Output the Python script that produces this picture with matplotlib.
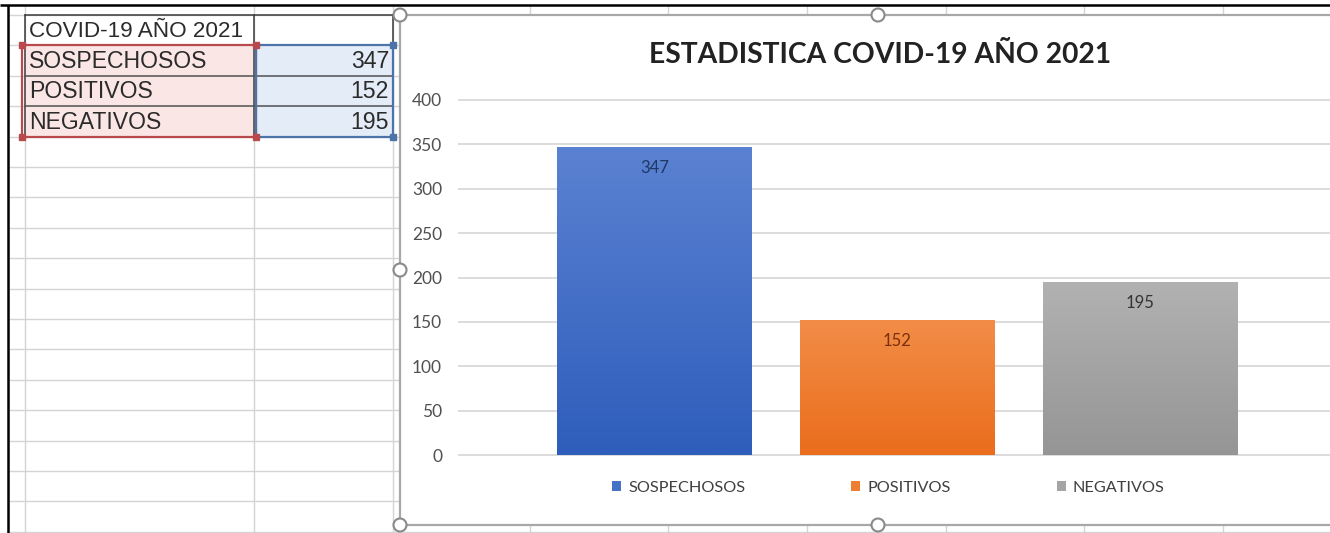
import numpy as np
import matplotlib
matplotlib.use("Agg")
import matplotlib.pyplot as plt
from matplotlib.patches import Rectangle, Circle

# ---------------- data ----------------
table_title = "COVID-19 AÑO 2021"
chart_title = "ESTADISTICA COVID-19 AÑO 2021"
categories = ["SOSPECHOSOS", "POSITIVOS", "NEGATIVOS"]
values = [347, 152, 195]
yticks = [0, 50, 100, 150, 200, 250, 300, 350, 400]

# ---------------- styles ----------------
top_colors = ["#5b82d2", "#f28d47", "#b2b2b2"]
bot_colors = ["#2e5dbb", "#ea6d1c", "#959595"]
mid_colors = ["#4472c4", "#ed7d31", "#a5a5a5"]
label_colors = ["#1f3864", "#7a2e0c", "#333333"]

W, H = 1330, 533
fig = plt.figure(figsize=(W / 100, H / 100), dpi=100)
fig.patch.set_facecolor("white")

# background (spreadsheet) axes in pixel coords
bg = fig.add_axes([0, 0, 1, 1], zorder=0)
bg.set_xlim(0, W)
bg.set_ylim(H, 0)
bg.axis("off")

grid_c = "#d4d4d4"
row0, rowh = 15.0, 30.4
rows_y = [row0 + rowh * k for k in range(18)]
col_x = [25, 254, 393, 530, 668, 807, 946, 1084, 1223]
for y in rows_y:
    bg.plot([9, W], [y, y], color=grid_c, lw=1.0, zorder=1, solid_capstyle="butt")
for x in col_x:
    bg.plot([x, x], [5, H], color=grid_c, lw=1.0, zorder=1, solid_capstyle="butt")

# outer black border
bg.add_patch(Rectangle((0, 0), 6.5, H, facecolor="white", edgecolor="none", zorder=4.5))
bg.plot([0, W], [4.5, 4.5], color="black", lw=1.8, zorder=5, solid_capstyle="butt")
bg.plot([7.5, 7.5], [4.5, H], color="black", lw=1.8, zorder=5, solid_capstyle="butt")

# selection fills
y_tab0, y_tab1 = rows_y[1], rows_y[4]
bg.add_patch(Rectangle((25, y_tab0), 254 - 25, y_tab1 - y_tab0, facecolor="#fbe6e6",
                       edgecolor="none", zorder=2))
bg.add_patch(Rectangle((254, y_tab0), 393 - 254, y_tab1 - y_tab0, facecolor="#e4ecf7",
                       edgecolor="none", zorder=2))
# cell borders
bc = "#3a3a3a"
bg.plot([25, 393], [rows_y[0], rows_y[0]], color=bc, lw=1.1, zorder=3)
bg.plot([25, 25], [rows_y[0], y_tab1], color=bc, lw=1.1, zorder=3)
bg.plot([254, 254], [rows_y[0], y_tab1], color=bc, lw=1.1, zorder=3)
bg.plot([393, 393], [rows_y[0], y_tab1], color=bc, lw=1.1, zorder=3)
for k in range(1, 4):
    bg.plot([25, 393], [rows_y[k], rows_y[k]], color="#505050", lw=1.1, zorder=3)

# selection outlines
red = "#b84a4d"
blue = "#4d74a8"
bg.add_patch(Rectangle((22, y_tab0), 256 - 22, y_tab1 - y_tab0, facecolor="none",
                       edgecolor=red, lw=1.6, zorder=4))
bg.add_patch(Rectangle((256, y_tab0), 393 - 256, y_tab1 - y_tab0, facecolor="none",
                       edgecolor=blue, lw=1.6, zorder=4))
for (x, y, c) in [(22, y_tab0, red), (256, y_tab0, red), (22, y_tab1, red), (256, y_tab1, red),
                  (393, y_tab0, blue), (393, y_tab1, blue)]:
    bg.add_patch(Rectangle((x - 3, y - 3), 6, 6, facecolor=c, edgecolor=c, zorder=6))

# table text
tfont = dict(family="Liberation Sans", fontsize=16.6, color="#2b2b2b", va="center", zorder=7)
bg.text(29, (rows_y[0] + rows_y[1]) / 2 + 1, table_title, ha="left",
        **{**tfont, "fontsize": 16.2})
for i, (c, v) in enumerate(zip(categories, values)):
    yc = (rows_y[i + 1] + rows_y[i + 2]) / 2 + 1
    bg.text(29, yc, c, ha="left", **tfont)
    bg.text(389, yc, str(v), ha="right", **tfont)

# chart frame (white area, extends past the right edge)
fx0, fy0, fy1 = 400, 15, 525
fxm = 878
bg.add_patch(Rectangle((fx0, fy0), W + 50 - fx0, fy1 - fy0, facecolor="white",
                       edgecolor="none", zorder=8))
fc = "#a8a8a8"
bg.plot([fx0, W], [fy0, fy0], color=fc, lw=1.6, zorder=8.5, solid_capstyle="butt")
bg.plot([fx0, W], [fy1, fy1], color=fc, lw=1.6, zorder=8.5, solid_capstyle="butt")
bg.plot([fx0, fx0], [fy0, fy1], color=fc, lw=1.6, zorder=8.5, solid_capstyle="butt")
for (x, y) in [(fx0, fy0), (fxm, fy0), (fx0, (fy0 + fy1) / 2), (fx0, fy1), (fxm, fy1)]:
    bg.add_patch(Circle((x, y), 6.5, facecolor="white", edgecolor="#8a8a8a", lw=1.5, zorder=9))

# ---------------- chart axes ----------------
px_per_unit = 355.0 / 400.0      # y pixels per value unit
y0_px = 455.0
ymin, ymax = -5, 410
ax_left, ax_right = 458.0, 1330.0
ax_bot_px = y0_px - ymin * px_per_unit
ax_top_px = y0_px - ymax * px_per_unit
ax = fig.add_axes([ax_left / W, 1 - ax_bot_px / H, (ax_right - ax_left) / W,
                   (ax_bot_px - ax_top_px) / H], zorder=2)
ax.patch.set_alpha(0)

xc0, xspace = 654.5, 243.0
xmin = (ax_left - xc0) / xspace
xmax = (ax_right - xc0) / xspace
x = np.arange(len(categories))
bars = ax.bar(x, values, width=195.0 / xspace, color=mid_colors, zorder=3)

grad = np.linspace(0, 1, 256)[:, None]
for b, ct, cb in zip(bars, top_colors, bot_colors):
    t = np.array(matplotlib.colors.to_rgb(ct))
    bo = np.array(matplotlib.colors.to_rgb(cb))
    img = (bo[None, None, :] * (1 - grad[..., None]) + t[None, None, :] * grad[..., None])
    img = np.repeat(img, 2, axis=1)
    im = ax.imshow(img, extent=[b.get_x(), b.get_x() + b.get_width(), 0, b.get_height()],
                   origin="lower", aspect="auto", zorder=4, interpolation="bilinear")
    im.set_clip_path(b)

for b, v, lc in zip(bars, values, label_colors):
    ax.annotate(str(v), (b.get_x() + b.get_width() / 2, v), xytext=(0, -15),
                textcoords="offset points", ha="center", va="center",
                fontsize=12, family="Lato", color=lc, zorder=6)

ax.set_xlim(xmin, xmax)
ax.set_ylim(ymin, ymax)
ax.set_yticks(yticks)
ax.set_yticklabels([str(t) for t in yticks], family="Lato", fontsize=12.5, color="#505050")
ax.tick_params(axis="y", length=0, pad=11.5)
ax.set_xticks([])
ax.yaxis.grid(True, color="#d9d9d9", lw=1.3, zorder=0)
ax.set_axisbelow(True)
for s in ax.spines.values():
    s.set_visible(False)

fig.text(880 / W, 1 - 55 / H, chart_title, ha="center", va="center", family="Lato",
         fontweight="bold", fontsize=20.3, color="#222222", zorder=10)

handles = [Rectangle((0, 0), 1, 1, facecolor=c, edgecolor="none") for c in mid_colors]
leg = fig.legend(handles, categories, loc="center", bbox_to_anchor=(888.5 / W, 1 - 488 / H),
                 ncol=3, frameon=False, handlelength=0.55, handleheight=0.55,
                 handletextpad=0.45, columnspacing=6.5,
                 prop=dict(family="Lato", size=11.7))
for t in leg.get_texts():
    t.set_color("#404040")
leg.set_zorder(10)

fig.savefig("out.png", dpi=100, facecolor="white")
